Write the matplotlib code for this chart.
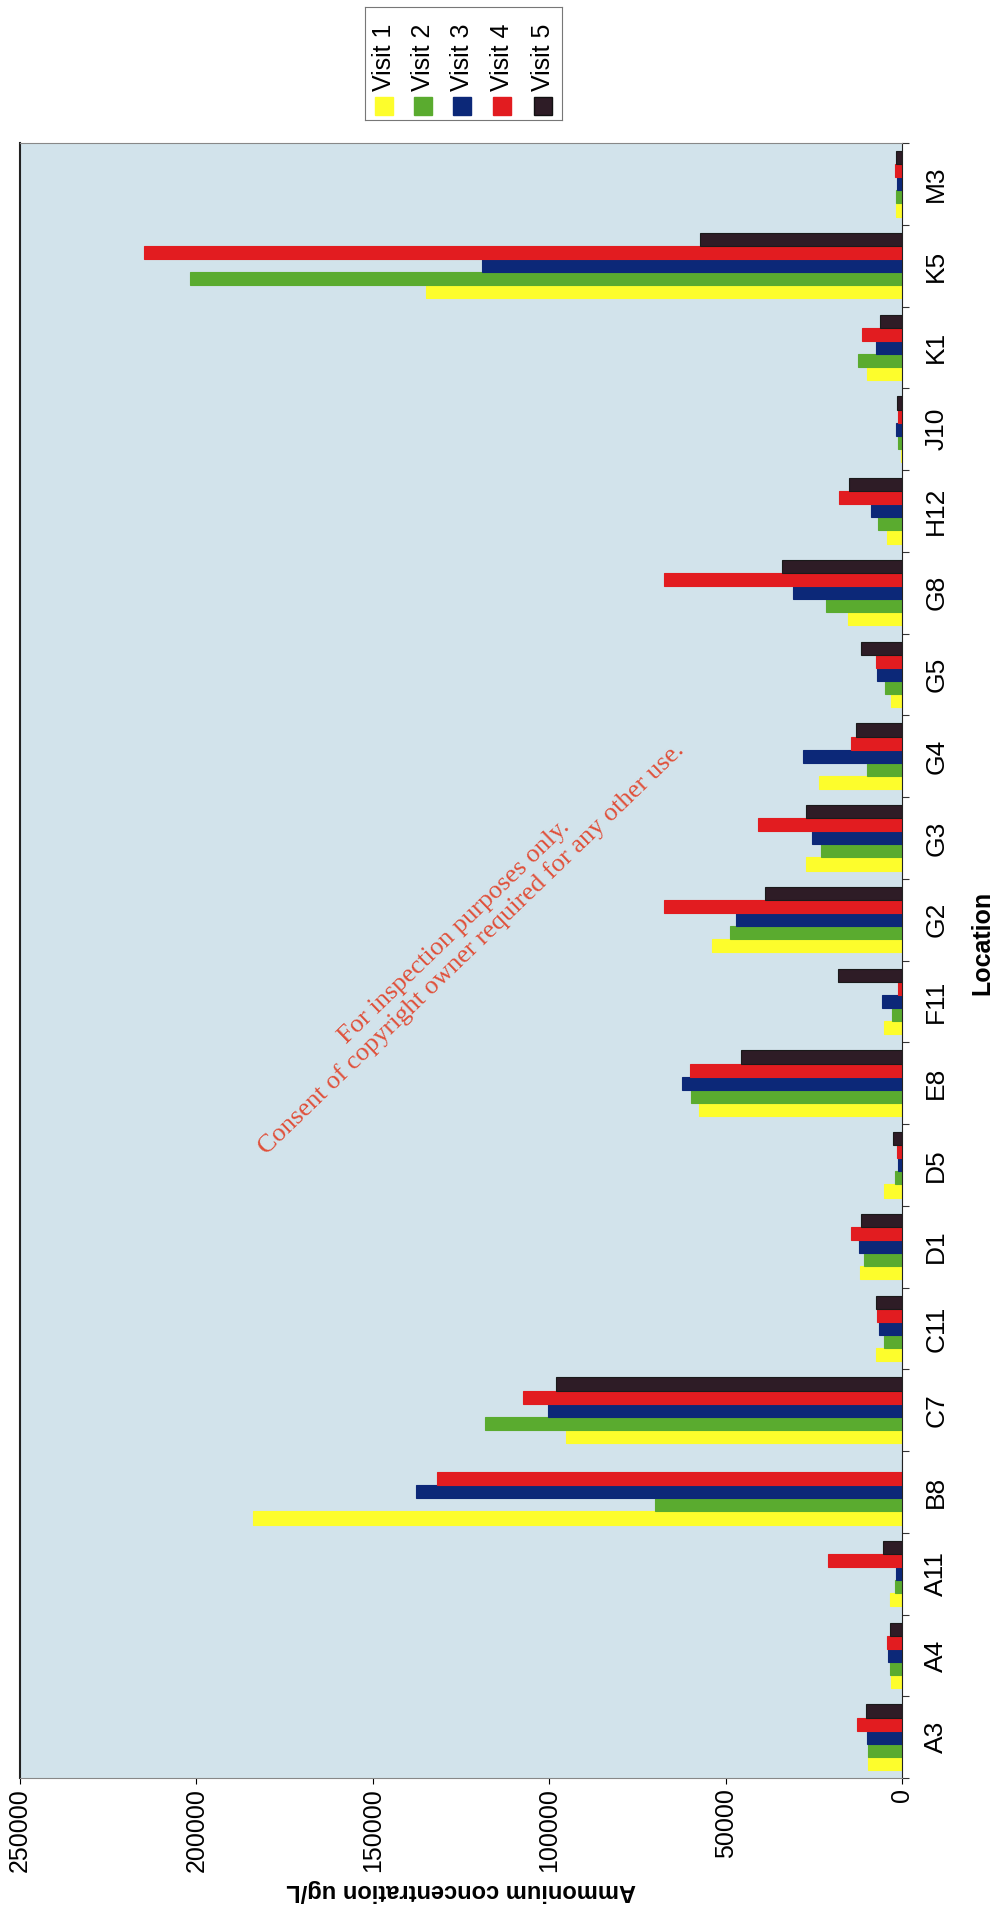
import matplotlib
matplotlib.use("Agg")
import matplotlib.pyplot as plt
from matplotlib.patches import Rectangle
import numpy as np

locations = ["A3", "A4", "A11", "B8", "C7", "C11", "D1", "D5", "E8", "F11",
             "G2", "G3", "G4", "G5", "G8", "H12", "J10", "K1", "K5", "M3"]
visit1 = [9600, 3100, 3500, 184000, 95100, 7300, 12000, 5100, 57400, 5100,
          53800, 27200, 23500, 3100, 15300, 4200, 300, 9800, 135000, 1800]
visit2 = [9600, 3500, 2100, 70000, 118300, 5200, 10800, 2000, 59700, 2800,
          48700, 23000, 9900, 4800, 21500, 6800, 1200, 12400, 201800, 1600]
visit3 = [10000, 4000, 1800, 137800, 100200, 6500, 12300, 1100, 62500, 5600,
          47000, 25400, 28000, 7100, 30800, 8800, 1600, 7400, 119100, 1400]
visit4 = [12700, 4300, 21000, 131900, 107500, 7000, 14500, 1400, 60000, 1100,
          67400, 40700, 14400, 7400, 67500, 17800, 1200, 11300, 214800, 1900]
visit5 = [10200, 3500, 5300, 0, 98200, 7400, 11500, 2500, 45600, 18100,
          38800, 27200, 13000, 11600, 34000, 15000, 1400, 6200, 57200, 1700]
series = [visit1, visit2, visit3, visit4, visit5]
names = ["Visit 1", "Visit 2", "Visit 3", "Visit 4", "Visit 5"]
colors = ["#fdfd2c", "#5aab2f", "#0c2878", "#e21c20", "#2e1c26"]
value_ticks = [0, 50000, 100000, 150000, 200000, 250000]

plt.rcParams['font.family'] = ['Liberation Sans', 'DejaVu Sans']

fig = plt.figure(figsize=(10.02, 19.2), dpi=100)
ax = fig.add_axes([20 / 1002, 1 - 1778 / 1920, 882 / 1002, 1635 / 1920])
ax.set_facecolor("#d2e3eb")

y = np.arange(len(locations))
h = 0.16
for i, vals in enumerate(series):
    ax.barh(y + (i - 2) * h, vals, height=h, color=colors[i],
            edgecolor="#1a1a1a" if i == 4 else colors[i], linewidth=0.8, label=names[i])

ax.set_xlim(250000, 0)
ax.set_ylim(-0.5, len(locations) - 0.5)
ax.set_xticks(value_ticks)
ax.set_xticklabels([str(v) for v in value_ticks], rotation=90, fontsize=18)
ax.tick_params(axis="x", length=4, direction="out")

ax.yaxis.tick_right()
ax.set_yticks(np.arange(len(locations) + 1) - 0.5)
ax.set_yticklabels([])
ax.set_yticks(y, minor=True)
ax.set_yticklabels(locations, minor=True, rotation=90, fontsize=19, va="center")
ax.tick_params(axis="y", which="major", length=5, direction="out", color="#333333")
ax.tick_params(axis="y", which="minor", length=0, pad=16)

for s in ["top", "bottom"]:
    ax.spines[s].set_color("#888888")
ax.spines["left"].set_color("#222222")
ax.spines["right"].set_color("#222222")
ax.spines["left"].set_linewidth(1.5)

ax.set_xlabel("Ammonium concentration ug/L", fontsize=17, fontweight="bold",
              rotation=180, labelpad=5)
fig.text(982 / 1002, 1 - 943 / 1920, "Location", rotation=90, fontsize=18,
         fontweight="bold", ha="center", va="center")

# watermark
fig.text(0.462, 0.51,
         "For inspection purposes only.\nConsent of copyright owner required for any other use.",
         rotation=44, rotation_mode="anchor", ha="center", va="center",
         fontsize=19, color="#e0503a", family="Liberation Serif", linespacing=1.05)

# legend (rotated, drawn by hand)
lax = fig.add_axes([365 / 1002, 1 - 120 / 1920, 197 / 1002, 113 / 1920])
lax.set_xlim(365, 562)
lax.set_ylim(120, 7)
lax.set_xticks([])
lax.set_yticks([])
for s in lax.spines.values():
    s.set_color("#777777")
legend_x = [384, 423, 462, 502, 543]
for lx, c, n in zip(legend_x, colors, names):
    lax.add_patch(Rectangle((lx - 9, 97), 18, 18, facecolor=c,
                            edgecolor="#111111" if c == colors[4] else c))
    lax.text(lx, 91, n, rotation=90, ha="center", va="bottom", fontsize=18)

fig.savefig("out.png", dpi=100)
